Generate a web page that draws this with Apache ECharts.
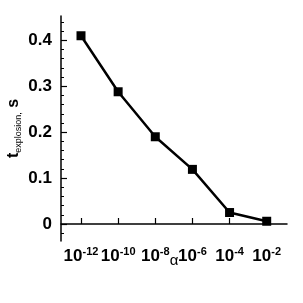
<!DOCTYPE html>
<html><head><meta charset="utf-8">
<script src="https://cdn.jsdelivr.net/npm/echarts@6/dist/echarts.min.js"></script>
<style>html,body{margin:0;padding:0;background:#fff}#c{width:303px;height:303px}</style>
</head><body><div id="c"></div>
<script>
// alpha exponents (alpha = 10^exp)
const alphaExp = [-12, -10, -8, -6, -4, -2];
const tExplosion = [0.41, 0.288, 0.19, 0.119, 0.025, 0.006];
const xTicks = [-12, -10, -8, -6, -4, -2];
const yTicks = [0, 0.1, 0.2, 0.3, 0.4];
const yMinor = [-0.02,0.02,0.04,0.06,0.08,0.12,0.14,0.16,0.18,0.22,0.24,0.26,0.28,0.32,0.34,0.36,0.38,0.42,0.44];

const font = 'Liberation Sans, Arial, Helvetica, sans-serif';
const chart = echarts.init(document.getElementById('c'), null, {renderer:'canvas'});
chart.setOption({
  animation: false,
  backgroundColor: '#fff',
  grid: {left: 61, right: 16, top: 16, bottom: 62, containLabel: false, outerBoundsMode: 'none'},
  xAxis: {
    type: 'value', min: -13.077, max: -0.907,
    name: 'α', nameLocation: 'middle', nameGap: 12, nameMoveOverlap: false,
    nameTextStyle: {fontFamily: font, fontSize: 15, color: '#000'},
    axisLine: {show: true, lineStyle: {color: '#000', width: 1.5}},
    axisTick: {show: true, inside: true, length: 6, customValues: xTicks, lineStyle: {color: '#000', width: 1.2}},
    axisLabel: {
      customValues: xTicks, margin: 5, color: '#000',
      formatter: v => '{b|10}{s|' + v + '}',
      rich: {
        b: {fontFamily: font, fontSize: 17, fontWeight: 'bold', color: '#000'},
        s: {fontFamily: font, fontSize: 11, fontWeight: 'bold', color: '#000', padding: [0, 0, 10, 0]}
      }
    },
    splitLine: {show: false}
  },
  yAxis: [{
    type: 'value', min: -0.037, max: 0.453,
    name: '{t|t}{sub|explosion,}{t| s}', nameLocation: 'middle', nameGap: 38, nameRotate: 90, nameMoveOverlap: false,
    nameTextStyle: {
      rich: {
        t: {fontFamily: font, fontSize: 16, fontWeight: 'bold', color: '#000'},
        sub: {fontFamily: font, fontSize: 9, color: '#000', padding: [9, 0, 0, 0]}
      }
    },
    axisLine: {show: true, lineStyle: {color: '#000', width: 1.5}},
    axisTick: {show: true, inside: true, length: 6, customValues: yTicks, lineStyle: {color: '#000', width: 1.2}},
    axisLabel: {
      customValues: yTicks, margin: 9, color: '#000',
      fontFamily: font, fontSize: 17, fontWeight: 'bold',
      formatter: v => (Math.abs(v) < 1e-9 ? '0' : String(+v.toFixed(1)))
    },
    splitLine: {show: false}
  }, {
    type: 'value', min: -0.037, max: 0.453, position: 'left',
    axisLine: {show: false},
    axisTick: {show: true, inside: true, length: 3, customValues: yMinor, lineStyle: {color: '#000', width: 1}},
    axisLabel: {show: false},
    splitLine: {show: false}
  }],
  series: [{
    type: 'line',
    data: alphaExp.map((a, i) => [a, tExplosion[i]]),
    symbol: 'rect', symbolSize: 9,
    lineStyle: {color: '#000', width: 2.5},
    itemStyle: {color: '#000'}
  }]
});
</script></body></html>
